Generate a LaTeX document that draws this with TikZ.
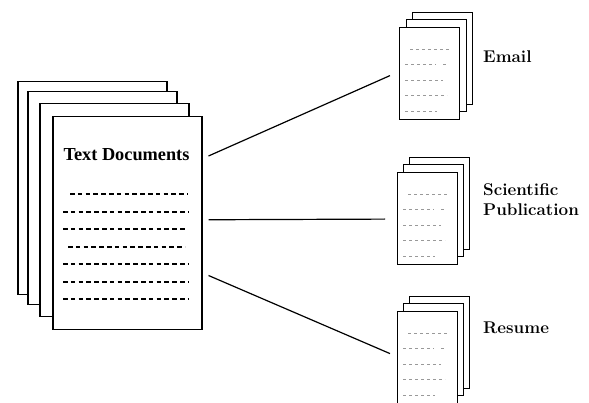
\documentclass[tikz,border=0pt]{standalone}
\usepackage{fontspec}
\newfontfamily\headfont{Liberation Serif}
\usetikzlibrary{calc}

\tikzset{
  bigsheet/.style={draw, fill=white, line width=1.5pt, inner sep=0pt,
    minimum width=149pt, minimum height=213pt, anchor=north west},
  smallsheet/.style={draw, fill=white, line width=1.2pt, inner sep=0pt,
    minimum width=60pt, minimum height=92pt, anchor=north west},
  bigdash/.style={line width=1.5pt, dash pattern=on 4.5pt off 3.3pt},
  smalldash/.style={line width=0.9pt, gray!80, dash pattern=on 3pt off 3pt},
  conn/.style={line width=1.2pt},
  headtext/.style={font=\headfont\bfseries\fontsize{18.3}{20}\selectfont},
  label/.style={anchor=west, align=left, inner sep=0pt,
    font=\bfseries\fontsize{17}{20}\selectfont}
}

% five short ruled lines on the front page of a small stack
\newcommand\pagerules[1]{%
  \draw[smalldash] ($(#1.north west)+(11,22)$) -- ($(#1.north west)+(50,22)$);
  \draw[smalldash] ($(#1.north west)+(6,37)$) -- ($(#1.north west)+(37,37)$);
  \draw[smalldash] ($(#1.north west)+(44,37)$) -- ($(#1.north west)+(48,37)$);
  \draw[smalldash] ($(#1.north west)+(6,53)$) -- ($(#1.north west)+(44,53)$);
  \draw[smalldash] ($(#1.north west)+(6,68)$) -- ($(#1.north west)+(48,68)$);
  \draw[smalldash] ($(#1.north west)+(6,84)$) -- ($(#1.north west)+(38,84)$);
}

\begin{document}
\begin{tikzpicture}[x=1pt, y=-1pt]
\useasboundingbox (0,0) rectangle (589,403);

% large stack of text documents
\node[bigsheet] (d1) at (17,81) {};
\node[bigsheet] (d2) at (27,91) {};
\node[bigsheet] (d3) at (39,103) {};
\node[bigsheet] (doc) at (52,116) {};
\node[headtext] (title) at (126.5,155) {Text Documents};
\draw[bigdash] (70,194) -- (188,194);
\draw[bigdash] (63,212) -- (188,212);
\draw[bigdash] (63,229) -- (185,229);
\draw[bigdash] (68,247) -- (185,247);
\draw[bigdash] (63,264) -- (188,264);
\draw[bigdash] (63,282) -- (188,282);
\draw[bigdash] (63,299) -- (188,299);

% email stack
\node[smallsheet] (e1) at (412,12) {};
\node[smallsheet] (e2) at (406,19) {};
\node[smallsheet] (email) at (399,27) {};
\pagerules{email}
\node[label] (emaillbl) at (483,57) {Email};

% scientific publication stack
\node[smallsheet] (p1) at (409,157) {};
\node[smallsheet] (p2) at (403,164) {};
\node[smallsheet] (sci) at (397,172) {};
\pagerules{sci}
\node[label] (scilbl) at (483,200) {Scientific\\Publication};

% resume stack
\node[smallsheet] (r1) at (409,296) {};
\node[smallsheet] (r2) at (403,303) {};
\node[smallsheet] (resume) at (397,311) {};
\pagerules{resume}
\node[label] (resumelbl) at (483,328) {Resume};

% connectors
\draw[conn] ($(doc.north east)+(6,40)$) -- ($(email.west)+(-9,2)$);
\draw[conn] ($(doc.east)+(6,-3.5)$) -- ($(sci.west)+(-12,0.5)$);
\draw[conn] ($(doc.south east)+(6,-55)$) -- ($(resume.west)+(-7,-4)$);
\end{tikzpicture}
\end{document}
